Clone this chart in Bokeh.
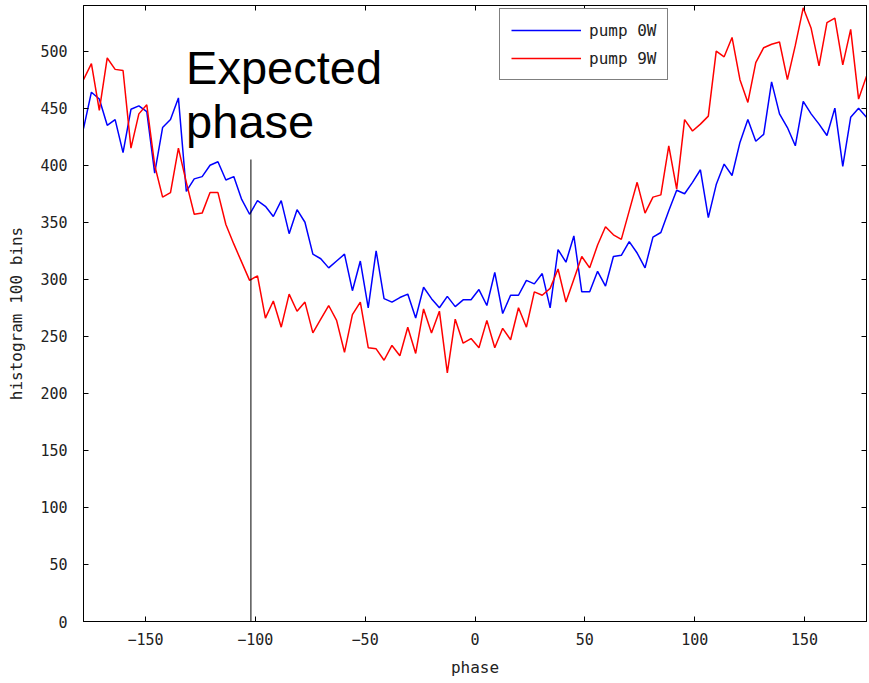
from bokeh.plotting import figure
from bokeh.models import Range1d, LinearAxis, FixedTicker, Legend, LegendItem, Label, Arrow
from bokeh.embed import file_html
from bokeh.resources import INLINE

# 100 histogram bins over the phase range
n_bins = 100
phase = [-180 + 360 / n_bins * (i + 0.5) for i in range(n_bins)]

pump_0w = [432, 464, 458, 435, 440, 411, 449, 452, 447, 393,
           433, 440, 459, 377, 388, 390, 400, 403, 387, 390,
           370, 357, 369, 364, 355, 369, 340, 361, 350, 322,
           318, 310, 316, 322, 290, 316, 275, 325, 283, 280,
           284, 287, 266, 293, 283, 275, 285, 276, 282, 282,
           291, 277, 306, 270, 286, 286, 299, 296, 305, 275,
           326, 315, 338, 289, 289, 307, 294, 320, 321, 333,
           323, 310, 337, 341, 360, 378, 375, 385, 396, 354,
           383, 401, 391, 420, 440, 421, 427, 473, 445, 433,
           417, 456, 445, 436, 426, 450, 399, 442, 450, 442]

pump_9w = [475, 489, 448, 494, 484, 483, 415, 445, 453, 400,
           372, 376, 415, 385, 357, 358, 376, 376, 348, 331,
           315, 299, 303, 266, 281, 258, 287, 272, 280, 253,
           265, 277, 264, 236, 269, 280, 240, 239, 229, 242,
           233, 258, 235, 274, 253, 272, 218, 265, 244, 248,
           240, 264, 240, 257, 247, 275, 258, 289, 286, 292,
           309, 280, 300, 320, 310, 330, 346, 339, 335, 360,
           385, 358, 372, 374, 417, 379, 440, 430, 436, 443,
           500, 495, 512, 475, 455, 490, 503, 506, 508, 475,
           505, 538, 520, 487, 525, 529, 488, 519, 458, 478]

x_ticks = [-150, -100, -50, 0, 50, 100, 150]
y_ticks = [0, 50, 100, 150, 200, 250, 300, 350, 400, 450, 500]
series_names = ["pump 0W", "pump 9W"]
expected_phase = -102
annotation_lines = ["Expected", "phase"]

TICK_FONT = "DejaVu Sans Mono"

p = figure(width=869, height=683, output_backend="svg", toolbar_location=None,
           x_range=Range1d(phase[0], phase[-1]), y_range=Range1d(0, 540),
           min_border_left=83, min_border_right=3, min_border_top=5,
           min_border_bottom=62, background_fill_color="white",
           border_fill_color="white")

p.xgrid.visible = False
p.ygrid.visible = False
p.outline_line_color = "black"
p.outline_line_width = 1

for ax, ticks in ((p.xaxis[0], x_ticks), (p.yaxis[0], y_ticks)):
    ax.ticker = FixedTicker(ticks=ticks)
    ax.major_tick_in = 5
    ax.major_tick_out = 0
    ax.minor_tick_line_color = None
    ax.axis_line_color = "black"
    ax.major_label_text_font = TICK_FONT
    ax.major_label_text_font_size = "15px"
    ax.major_label_text_color = "#222222"
    ax.axis_label_text_font = TICK_FONT
    ax.axis_label_text_font_size = "16px"
    ax.axis_label_text_font_style = "normal"
    ax.axis_label_text_color = "#222222"

p.xaxis.axis_label = "phase"
p.yaxis.axis_label = "histogram 100 bins"
p.xaxis.major_label_standoff = 11
p.xaxis.axis_label_standoff = 10
p.yaxis.major_label_standoff = 16
p.yaxis.axis_label_standoff = 11

# box ticks on the top and right edges (no labels)
for loc, ticks in (("above", x_ticks), ("right", y_ticks)):
    ax = LinearAxis(ticker=FixedTicker(ticks=ticks))
    ax.major_tick_in = 5
    ax.major_tick_out = 0
    ax.minor_tick_line_color = None
    ax.major_label_text_color = None
    ax.major_label_text_font_size = "1px"
    ax.major_label_standoff = 0
    p.add_layout(ax, loc)

r0 = p.line(phase, pump_0w, line_color="#0000ff", line_width=1.5)
r1 = p.line(phase, pump_9w, line_color="#ff0000", line_width=1.5)

legend = Legend(items=[LegendItem(label=series_names[0], renderers=[r0]),
                       LegendItem(label=series_names[1], renderers=[r1])],
                location=(416, 541), orientation="vertical",
                border_line_color="black", border_line_width=1,
                background_fill_color="white", background_fill_alpha=1,
                glyph_width=70, glyph_height=20, label_height=20,
                label_standoff=8, padding=11, spacing=8, margin=0,
                label_text_font=TICK_FONT, label_text_font_size="16px",
                label_text_color="#222222")
p.add_layout(legend)

# annotation: vertical marker at the expected phase
p.add_layout(Arrow(end=None, x_start=expected_phase, y_start=405,
                   x_end=expected_phase, y_end=-60,
                   line_color="black", line_width=1))

p.add_layout(Label(x=-131.5, y=486, text=annotation_lines[0],
                   text_font="Liberation Sans", text_font_size="47px",
                   text_baseline="alphabetic", text_color="black"))
p.add_layout(Label(x=-131.5, y=438.5, text=annotation_lines[1],
                   text_font="Liberation Sans", text_font_size="47px",
                   text_baseline="alphabetic", text_color="black"))

open("out.html", "w").write(file_html(p, INLINE))
